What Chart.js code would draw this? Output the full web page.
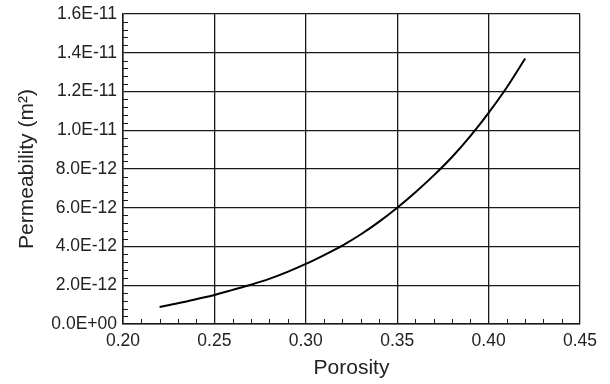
<!DOCTYPE html>
<html>
<head>
<meta charset="utf-8">
<script src="https://cdn.jsdelivr.net/npm/chart.js@4"></script>
<style>
    html, body { margin: 0; padding: 0; background: #ffffff; }
    #wrap { width: 610px; height: 384px; }
</style>
</head>
<body>
<div id="wrap"><canvas id="permChart" width="610" height="384"></canvas></div>
<script>
// Values
const porosity = [0.22, 0.23, 0.24, 0.25, 0.26, 0.27, 0.28, 0.29, 0.30, 0.31, 0.32,
                  0.33, 0.34, 0.35, 0.36, 0.37, 0.38, 0.39, 0.40, 0.41, 0.42];
const permeability = [0.88e-12, 1.07e-12, 1.28e-12, 1.50e-12, 1.76e-12, 2.03e-12, 2.33e-12,
                      2.69e-12, 3.10e-12, 3.56e-12, 4.05e-12, 4.62e-12, 5.27e-12, 6.00e-12,
                      6.80e-12, 7.67e-12, 8.62e-12, 9.70e-12, 10.90e-12, 12.22e-12, 13.70e-12];

const xTicks = [0.20, 0.25, 0.30, 0.35, 0.40, 0.45];
const yTicks = [0, 2e-12, 4e-12, 6e-12, 8e-12, 10e-12, 12e-12, 14e-12, 16e-12];

const fontFamily = '"Liberation Sans", Arial, sans-serif';
const lineColor = '#1a1a1a';

// Format like 1.6E-11 / 0.0E+00
function sciLabel(v) {
    if (Math.abs(v) < 1e-20) return '0.0E+00';
    let s = v.toExponential(1).toUpperCase();
    let parts = s.split('E');
    let exp = parseInt(parts[1], 10);
    let sign = exp < 0 ? '-' : '+';
    let digits = String(Math.abs(exp)).padStart(2, '0');
    return parts[0] + 'E' + sign + digits;
}

// Small inward minor ticks along the bottom and left axes
const minorTicks = {
    id: 'minorTicks',
    afterDatasetsDraw(chart) {
        const ctx = chart.ctx;
        const xs = chart.scales.x;
        const ys = chart.scales.y;
        const bottom = ys.getPixelForValue(0);
        const left = xs.getPixelForValue(0.20);
        ctx.save();
        ctx.strokeStyle = lineColor;
        ctx.lineWidth = 1;
        ctx.beginPath();
        for (let i = 1; i < 25; i++) {
            if (i % 5 === 0) continue;
            const px = Math.round(xs.getPixelForValue(0.20 + i * 0.01)) + 0.5;
            ctx.moveTo(px, bottom);
            ctx.lineTo(px, bottom - 5);
        }
        for (let j = 1; j < 40; j++) {
            if (j % 5 === 0) continue;
            const py = Math.round(ys.getPixelForValue(j * 0.4e-12)) + 0.5;
            ctx.moveTo(left, py);
            ctx.lineTo(left + 5, py);
        }
        ctx.stroke();
        ctx.restore();
    }
};

const points = porosity.map((p, i) => ({ x: p, y: permeability[i] }));

new Chart(document.getElementById('permChart'), {
    type: 'scatter',
    data: {
        datasets: [{
            data: points,
            showLine: true,
            borderColor: '#000000',
            borderWidth: 2,
            pointRadius: 0,
            cubicInterpolationMode: 'monotone',
            fill: false
        }]
    },
    options: {
        responsive: false,
        animation: false,
        layout: { padding: { top: 14, right: 30, left: 0, bottom: 0 } },
        plugins: {
            legend: { display: false },
            tooltip: { enabled: false }
        },
        scales: {
            x: {
                type: 'linear',
                min: 0.20,
                max: 0.45,
                afterBuildTicks: (scale) => { scale.ticks = xTicks.map(v => ({ value: v })); },
                afterFit: (scale) => { scale.height = 60; },
                ticks: {
                    color: '#222222',
                    font: { family: fontFamily, size: 17.5 },
                    padding: 7,
                    maxRotation: 0,
                    callback: (v) => Number(v).toFixed(2)
                },
                grid: { color: lineColor, lineWidth: 1.3, drawTicks: false },
                border: { color: lineColor, width: 1.5 },
                title: {
                    display: true,
                    text: 'Porosity',
                    color: '#222222',
                    font: { family: fontFamily, size: 21 },
                    padding: { top: 4, bottom: 3 }
                }
            },
            y: {
                type: 'linear',
                min: 0,
                max: 16e-12,
                afterBuildTicks: (scale) => { scale.ticks = yTicks.map(v => ({ value: v })); },
                afterFit: (scale) => {
                    scale.width = 123;
                    scale.paddingTop = 0;
                    scale.paddingBottom = 0;
                },
                ticks: {
                    color: '#222222',
                    font: { family: fontFamily, size: 17.5, lineHeight: 1 },
                    padding: 6,
                    callback: (v) => sciLabel(v)
                },
                grid: { color: lineColor, lineWidth: 1.3, drawTicks: false },
                border: { color: lineColor, width: 1.5 },
                title: {
                    display: true,
                    text: 'Permeability (m²)',
                    color: '#222222',
                    font: { family: fontFamily, size: 21 },
                    padding: { top: 15, bottom: 6 }
                }
            }
        }
    },
    plugins: [minorTicks]
});
</script>
</body>
</html>
